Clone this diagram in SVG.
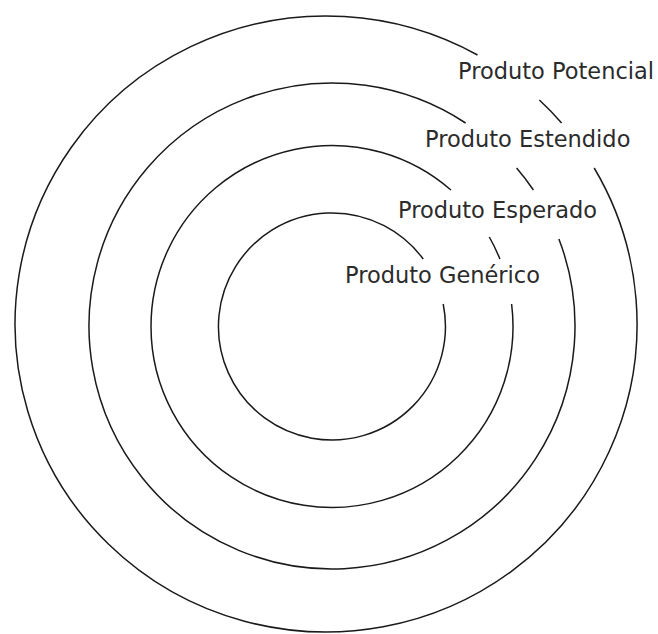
<svg xmlns="http://www.w3.org/2000/svg" width="658" height="634" viewBox="0 0 658 634">
  <style>
    .ring { fill: none; stroke: #1a1a1a; stroke-width: 1.5; }
    .label { font-family: "DejaVu Sans", "Liberation Sans", sans-serif; font-size: 22.5px; fill: #2b2b2b; }
  </style>
  <rect x="0" y="0" width="658" height="634" fill="#ffffff"/>
  <g id="produto-potencial">
    <path class="ring" d="M594.2,168 A311,308 0 1 1 477.5,55"/>
    <path class="ring" d="M539.4,100 A311,308 0 0 1 561.6,123"/>
    <text class="label" x="458" y="79">Produto Potencial</text>
  </g>
  <g id="produto-estendido">
    <path class="ring" d="M558.9,239 A243,243 0 1 1 465.6,123"/>
    <path class="ring" d="M516.6,168 A243,243 0 0 1 533.4,190"/>
    <text class="label" x="425" y="147">Produto Estendido</text>
  </g>
  <g id="produto-esperado">
    <path class="ring" d="M511.6,304 A181,181 0 1 1 450.9,190"/>
    <path class="ring" d="M489.3,237 A181,181 0 0 1 499.9,259"/>
    <text class="label" x="398" y="218">Produto Esperado</text>
  </g>
  <g id="produto-generico">
    <path class="ring" d="M443.2,304 A113.5,113.5 0 1 1 423.2,259"/>
    <text class="label" x="345" y="283">Produto Genérico</text>
  </g>
  <g id="connectors"></g>
</svg>
